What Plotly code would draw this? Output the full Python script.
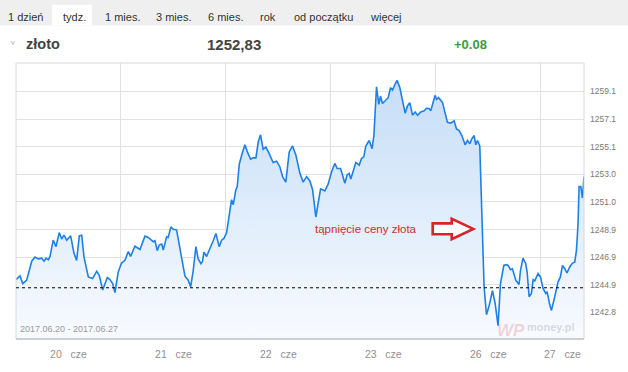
import plotly.graph_objects as go

# ---- data ----
# time of each quote, in trading-session days from the start of 20 cze
t_days = [
    0.000, 0.038, 0.064, 0.102, 0.150, 0.181, 0.212, 0.245, 0.267, 0.286,
    0.308, 0.324, 0.355, 0.381, 0.412, 0.435, 0.457, 0.483, 0.521, 0.552,
    0.578, 0.603, 0.626, 0.648, 0.689, 0.730, 0.769, 0.793, 0.826, 0.870,
    0.895, 0.921, 0.943, 0.974,
    1.006, 1.038, 1.070, 1.092, 1.133, 1.181, 1.229, 1.260, 1.308, 1.324,
    1.346, 1.365, 1.388, 1.403, 1.435, 1.450, 1.476, 1.498, 1.530, 1.562,
    1.593, 1.610, 1.641, 1.664, 1.689, 1.714, 1.736, 1.762, 1.778, 1.790,
    1.816, 1.848, 1.879, 1.905, 1.936, 1.959, 1.981,
    2.007, 2.038, 2.054, 2.070, 2.095, 2.108, 2.127, 2.150, 2.181, 2.203,
    2.235, 2.260, 2.286, 2.308, 2.330, 2.355, 2.381, 2.412, 2.450, 2.483,
    2.514, 2.540, 2.571, 2.603, 2.635, 2.667, 2.705, 2.736, 2.769, 2.800,
    2.826, 2.857, 2.902, 2.943, 2.974,
    3.007, 3.038, 3.060, 3.092, 3.111, 3.133, 3.155, 3.174, 3.190, 3.219,
    3.238, 3.270, 3.292, 3.314, 3.333, 3.365, 3.393, 3.410, 3.435, 3.457,
    3.473, 3.492, 3.524, 3.546, 3.569, 3.588, 3.610, 3.631, 3.657, 3.683,
    3.708, 3.730, 3.752, 3.778, 3.803, 3.826, 3.857, 3.889, 3.911, 3.936,
    3.952, 3.974, 3.993,
    4.007, 4.026, 4.064, 4.089, 4.111, 4.143, 4.174, 4.197, 4.222, 4.248,
    4.279, 4.302, 4.324, 4.343, 4.365, 4.381, 4.397, 4.419, 4.429, 4.445,
    4.460, 4.483, 4.508, 4.540, 4.565, 4.593, 4.616, 4.648, 4.673, 4.689,
    4.711, 4.730, 4.762, 4.793, 4.807, 4.831, 4.857, 4.870, 4.889, 4.911,
    4.927, 4.943, 4.974, 4.997,
    5.022, 5.048, 5.060, 5.086, 5.102, 5.133, 5.165, 5.187, 5.207, 5.229,
    5.250, 5.276, 5.302, 5.324, 5.340, 5.355, 5.365, 5.381, 5.397, 5.412,
]

price = [
    1245.25, 1245.52, 1244.96, 1245.21, 1246.61, 1246.91, 1246.78, 1246.83, 1246.61, 1246.83,
    1246.71, 1246.96, 1248.16, 1247.68, 1248.72, 1248.24, 1248.53, 1248.16, 1248.48, 1247.20,
    1246.67, 1248.48, 1248.53, 1246.91, 1245.45, 1245.33, 1245.87, 1245.57, 1244.48, 1245.40,
    1245.25, 1244.96, 1244.29, 1245.81,
    1246.47, 1246.67, 1247.32, 1246.96, 1247.71, 1247.47, 1248.46, 1248.36, 1248.05, 1248.12,
    1247.39, 1247.80, 1247.87, 1247.44, 1248.41, 1248.36, 1249.14, 1248.96, 1248.92, 1247.63,
    1246.18, 1245.50, 1245.21, 1244.72, 1245.94, 1247.68, 1246.78, 1246.42, 1246.61, 1247.27,
    1246.96, 1247.63, 1248.12, 1248.65, 1247.68, 1248.16, 1248.29,
    1248.72, 1250.30, 1251.15, 1250.78, 1251.88, 1252.12, 1253.75, 1254.42, 1255.20, 1254.71,
    1254.13, 1254.23, 1254.23, 1255.40, 1255.93, 1254.86, 1255.03, 1254.55, 1253.89, 1253.99,
    1253.58, 1252.85, 1252.44, 1254.67, 1255.11, 1254.42, 1253.09, 1252.44, 1252.85, 1252.53,
    1251.88, 1249.87, 1251.95, 1251.80, 1252.29,
    1253.21, 1253.82, 1253.45, 1253.45, 1252.97, 1252.36, 1252.97, 1253.09, 1252.68, 1253.33,
    1253.89, 1253.69, 1254.18, 1254.31, 1255.11, 1255.51, 1254.91, 1255.88, 1259.47, 1258.18,
    1258.79, 1258.24, 1258.50, 1258.67, 1259.40, 1259.23, 1259.64, 1259.95, 1259.42, 1258.31,
    1257.53, 1258.06, 1258.31, 1257.38, 1257.62, 1257.38, 1257.62, 1257.70, 1257.89, 1257.87,
    1257.70, 1258.31, 1258.84,
    1258.55, 1258.67, 1258.31, 1257.58, 1256.85, 1256.80, 1256.97, 1256.37, 1256.24, 1255.88,
    1255.20, 1255.51, 1255.27, 1255.64, 1255.88, 1255.20, 1255.51, 1255.11, 1252.24, 1247.39,
    1244.72, 1242.66, 1243.32, 1244.43, 1243.51, 1241.85, 1244.96, 1246.30, 1246.35, 1246.30,
    1245.98, 1246.05, 1245.21, 1244.89, 1245.94, 1246.83, 1246.42, 1245.81, 1243.99, 1244.23,
    1245.25, 1245.16, 1245.69, 1245.45,
    1244.60, 1244.23, 1244.36, 1243.39, 1242.98, 1243.99, 1245.09, 1245.45, 1246.30, 1246.05,
    1245.74, 1246.18, 1246.47, 1246.54, 1247.39, 1249.33, 1252.12, 1252.12, 1251.27, 1252.85,
]

day_labels = ["20   cze", "21   cze", "22   cze", "23   cze", "26   cze", "27   cze"]
day_starts = [0, 1, 2, 3, 4, 5]
day_ends = [1, 2, 3, 4, 5, 5.412]

y_ticks = [1242.83, 1244.87, 1246.91, 1248.94, 1250.98, 1253.02, 1255.06, 1257.09, 1259.13]
y_tick_labels = ["1242.8", "1244.9", "1246.9", "1248.9", "1251.0", "1253.0", "1255.1", "1257.1", "1259.1"]

prev_close = 1244.65
y_range = [1240.87, 1261.23]

instrument = "złoto"
last_value = "1252,83"
change = "+0.08"
date_range = "2017.06.20 - 2017.06.27"
tabs = ["1 dzień", "tydz.", "1 mies.", "3 mies.", "6 mies.", "rok", "od początku", "więcej"]
tab_x = [-0.0176, 0.0792, 0.1532, 0.2430, 0.3345, 0.4260, 0.4859, 0.6197]
callout = "tąpnięcie ceny złota"

FONT = "Arial, Liberation Sans, sans-serif"
day_mid = [(a + b) / 2 for a, b in zip(day_starts, day_ends)]

fig = go.Figure()
fig.add_trace(go.Scatter(
    x=t_days, y=price, mode="lines",
    line=dict(color="rgb(30,128,228)", width=1.6),
    fill="tozeroy",
    fillgradient=dict(type="vertical", start=y_range[0], stop=1260.5,
                      colorscale=[[0, "rgb(249,251,255)"], [1, "rgb(196,221,247)"]]),
    hoverinfo="skip",
))

shapes = [
    # tab bar
    dict(type="rect", xref="paper", yref="paper", x0=-0.04, x1=1.09, y0=1.1357, y1=1.24,
         fillcolor="#efefef", line=dict(width=0), layer="below"),
    dict(type="rect", xref="paper", yref="paper", x0=0.0634, x1=0.1338, y0=1.1357, y1=1.2107,
         fillcolor="white", line=dict(width=0), layer="below"),
    # plot frame
    dict(type="rect", xref="paper", yref="paper", x0=0, x1=1, y0=0, y1=1,
         line=dict(color="#d8d8d8", width=1), layer="above"),
    dict(type="line", xref="paper", yref="paper", x0=0, x1=1, y0=0, y1=0,
         line=dict(color="#b4b4b4", width=1), layer="above"),
    # previous close
    dict(type="line", xref="paper", yref="y", x0=0, x1=1, y0=prev_close, y1=prev_close,
         line=dict(color="black", width=1, dash="dot"), layer="above"),
    # red hollow arrow
    dict(type="path", xref="paper", yref="paper",
         path="M 0.7336,0.4189 L 0.7671,0.4189 L 0.7671,0.4357 L 0.8051,0.3989 "
              "L 0.7671,0.3618 L 0.7671,0.3796 L 0.7336,0.3796 Z",
         line=dict(color="#d8232a", width=2.6), fillcolor="white", layer="above"),
]

ann = []
for lab, x in zip(tabs, tab_x):
    ann.append(dict(text=lab, x=x, y=1.167, xref="paper", yref="paper", xanchor="left",
                    yanchor="middle", showarrow=False, font=dict(family=FONT, size=11, color="#333")))
ann += [
    dict(text="v", x=-0.0053, y=1.073, xref="paper", yref="paper", xanchor="center", yanchor="middle",
         showarrow=False, font=dict(family=FONT, size=8, color="#b0b0b0")),
    dict(text="<b>" + instrument + "</b>", x=0.0141, y=1.068, xref="paper", yref="paper", xanchor="left",
         yanchor="middle", showarrow=False, font=dict(family=FONT, size=14.5, color="#444")),
    dict(text="<b>" + last_value + "</b>", x=0.3327, y=1.068, xref="paper", yref="paper", xanchor="left",
         yanchor="middle", showarrow=False, font=dict(family=FONT, size=15, color="#444")),
    dict(text="<b>" + change + "</b>", x=0.7676, y=1.068, xref="paper", yref="paper", xanchor="left",
         yanchor="middle", showarrow=False, font=dict(family=FONT, size=13, color="#3e9a3e")),
    dict(text=date_range, x=0.0035, y=0.036, xref="paper", yref="paper", xanchor="left",
         yanchor="middle", showarrow=False, font=dict(family=FONT, size=9, color="#999")),
    dict(text=callout, x=0.5229, y=0.3975, xref="paper", yref="paper", xanchor="left",
         yanchor="middle", showarrow=False, font=dict(family=FONT, size=11.5, color="#d42b2b")),
    dict(text="<b><i>WP</i></b>", x=0.8715, y=0.032, xref="paper", yref="paper", xanchor="center",
         yanchor="middle", showarrow=False, font=dict(family=FONT, size=17, color="rgba(228,110,120,0.28)")),
    dict(text="<b>money.pl</b>", x=0.896, y=0.045, xref="paper", yref="paper", xanchor="left",
         yanchor="middle", showarrow=False, font=dict(family=FONT, size=11, color="rgba(150,150,170,0.35)")),
]

fig.update_layout(
    width=628, height=372,
    margin=dict(l=16, r=44, t=63, b=29),
    paper_bgcolor="white", plot_bgcolor="white",
    showlegend=False,
    shapes=shapes, annotations=ann,
    xaxis=dict(range=[0, day_ends[-1]], tickmode="array", tickvals=day_mid, ticktext=day_labels,
               showgrid=False, zeroline=False, showline=False, ticks="",
               tickfont=dict(family=FONT, size=10.5, color="#8f8f8f"), ticklabelstandoff=7,
               minor=dict(tickmode="linear", tick0=0, dtick=1, showgrid=True,
                          gridcolor="#e2e2e2", gridwidth=1, ticks=""),
               fixedrange=True),
    yaxis=dict(range=y_range, side="right", tickmode="array", tickvals=y_ticks, ticktext=y_tick_labels,
               showgrid=True, gridcolor="#e2e2e2", gridwidth=1, zeroline=False, showline=False,
               ticks="", tickfont=dict(family=FONT, size=8.5, color="#7a7a7a"), ticklabelstandoff=5,
               fixedrange=True),
)

fig.write_html("out.html", config={"displayModeBar": False},
               post_script="document.body.style.margin='0';document.body.style.overflow='hidden';")
